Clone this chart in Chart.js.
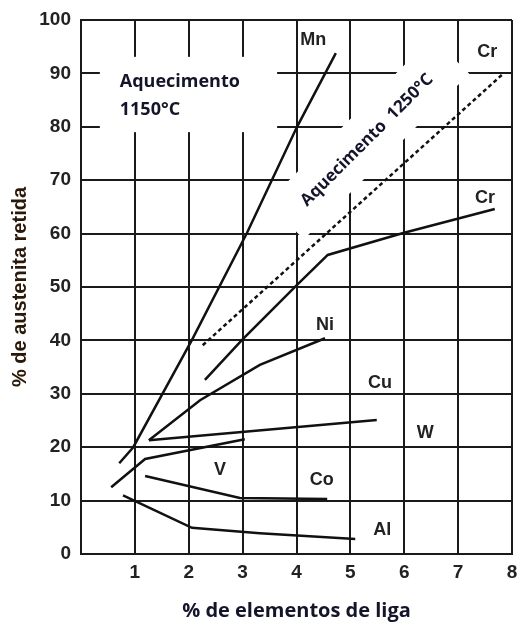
<!DOCTYPE html>
<html>
<head>
<meta charset="utf-8">
<script src="https://cdn.jsdelivr.net/npm/chart.js@4.4.1/dist/chart.umd.min.js"></script>
<style>
  html, body { margin: 0; padding: 0; background: #fff; }
  #wrap { width: 517px; height: 624px; }
</style>
</head>
<body>
<div id="wrap"><canvas id="chart" width="517" height="624"></canvas></div>
<script>
// -- Data --
const xTicks = [0, 1, 2, 3, 4, 5, 6, 7, 8];
const yTicks = [0, 10, 20, 30, 40, 50, 60, 70, 80, 90, 100];

const mnX = [0.71, 0.97, 2.06, 3.08, 4.01, 4.73];
const mnY = [17.0, 20.0, 40.1, 60.1, 80.0, 93.8];

const cr1250X = [2.26, 7.81];
const cr1250Y = [39.1, 89.7];

const crX = [2.30, 2.99, 4.01, 4.58, 5.98, 7.68];
const crY = [32.6, 40.1, 50.4, 56.0, 60.1, 64.6];

const niX = [1.26, 2.21, 3.32, 4.53];
const niY = [21.3, 28.8, 35.4, 40.4];

const cuX = [1.26, 5.49];
const cuY = [21.3, 25.1];

const wX = [0.56, 1.19, 3.04];
const wY = [12.5, 17.8, 21.5];

const coX = [1.19, 2.95, 4.57];
const coY = [14.6, 10.5, 10.3];

const alX = [0.78, 2.06, 3.32, 5.09];
const alY = [11.0, 4.9, 3.9, 2.8];

// curve names written on the plot, with their anchor in data units
const curveNames = ['Mn', 'Cr', 'Cr', 'Ni', 'Cu', 'W', 'Co', 'Al', 'V'];
const curveNameX = [4.31, 7.54, 7.50, 4.53, 5.55, 6.39, 4.47, 5.59, 2.58];
const curveNameY = [96.3, 94.0, 66.7, 42.9, 32.0, 22.7, 13.9, 4.5, 15.7];

const ink = '#111';
const zip = (xs, ys) => xs.map((x, i) => ({ x: x, y: ys[i] }));

function line(xs, ys, dashed) {
    return {
        data: zip(xs, ys),
        showLine: true,
        borderColor: ink,
        borderWidth: 2.5,
        borderDash: dashed ? [4, 3] : [],
        pointRadius: 0,
        tension: 0
    };
}

// white boxes behind the two "Aquecimento" notes, which cut the grid
const maskPlugin = {
    id: 'masks',
    beforeDatasetsDraw(chart) {
        const { ctx, scales: { x, y } } = chart;
        ctx.save();
        ctx.fillStyle = '#fff';
        const x0 = x.getPixelForValue(0.35), x1 = x.getPixelForValue(3.64);
        const y0 = y.getPixelForValue(93.1), y1 = y.getPixelForValue(79.0);
        ctx.fillRect(x0, y0, x1 - x0, y1 - y0);

        ctx.translate(x.getPixelForValue(5.33), y.getPixelForValue(77.9));
        ctx.rotate(-Math.PI / 4);
        ctx.fillRect(-117, -26, 234, 52);
        ctx.restore();
    },
    afterDatasetsDraw(chart) {
        const { ctx, scales: { x, y } } = chart;
        ctx.save();
        ctx.fillStyle = '#222';
        ctx.font = 'bold 18px "Liberation Sans", Arial, sans-serif';
        ctx.textAlign = 'center';
        ctx.textBaseline = 'middle';
        curveNames.forEach((t, i) => {
            ctx.fillText(t, x.getPixelForValue(curveNameX[i]), y.getPixelForValue(curveNameY[i]));
        });

        ctx.fillStyle = '#14142a';
        ctx.font = 'bold 18px "Open Sans", sans-serif';
        ctx.textAlign = 'left';
        ctx.fillText('Aquecimento', x.getPixelForValue(0.72), y.getPixelForValue(88.4));
        ctx.fillText('1150°C', x.getPixelForValue(0.72), y.getPixelForValue(83.1));

        ctx.translate(x.getPixelForValue(5.31), y.getPixelForValue(77.5));
        ctx.rotate(-Math.PI / 4);
        ctx.textAlign = 'center';
        ctx.font = 'bold 17px "Open Sans", sans-serif';
        ctx.fillText('Aquecimento  1250°C', 0, 0);
        ctx.restore();
    }
};

new Chart(document.getElementById('chart'), {
    type: 'scatter',
    data: {
        datasets: [
            line(mnX, mnY),
            line(cr1250X, cr1250Y, true),
            line(crX, crY),
            line(niX, niY),
            line(cuX, cuY),
            line(wX, wY),
            line(coX, coY),
            line(alX, alY)
        ]
    },
    options: {
        responsive: false,
        animation: false,
        layout: { padding: { top: 20, right: 5, left: 0, bottom: 0 } },
        plugins: { legend: { display: false }, tooltip: { enabled: false } },
        scales: {
            x: {
                type: 'linear',
                min: 0, max: 8,
                afterBuildTicks: (s) => { s.ticks = xTicks.map(v => ({ value: v })); },
                afterFit: (s) => { s.height = 70; s.paddingLeft = 0; s.paddingRight = 0; },
                grid: { color: '#1a1a1a', lineWidth: 2, drawTicks: false },
                border: { color: '#1a1a1a', width: 2 },
                ticks: {
                    padding: 7,
                    color: '#222',
                    font: { family: '"Liberation Sans", Arial', size: 19, weight: 'bold' },
                    callback: (v) => v === 0 ? '' : v
                },
                title: {
                    display: true,
                    text: '% de elementos de liga',
                    color: '#14142a',
                    font: { family: '"Open Sans"', size: 20, weight: 'bold' },
                    padding: { top: 0, bottom: 1 }
                }
            },
            y: {
                min: 0, max: 100,
                afterBuildTicks: (s) => { s.ticks = yTicks.map(v => ({ value: v })); },
                afterFit: (s) => { s.width = 81; s.paddingTop = 0; s.paddingBottom = 0; },
                grid: { color: '#1a1a1a', lineWidth: 2, drawTicks: false },
                border: { color: '#1a1a1a', width: 2 },
                ticks: {
                    padding: 10,
                    color: '#222',
                    font: { family: '"Liberation Sans", Arial', size: 19, weight: 'bold' }
                },
                title: {
                    display: true,
                    text: '% de austenita retida',
                    color: '#2a1808',
                    font: { family: '"Liberation Sans", Arial', size: 20, weight: 'bold' },
                    padding: { top: 8, bottom: 0 }
                }
            }
        }
    },
    plugins: [maskPlugin]
});
</script>
</body>
</html>
